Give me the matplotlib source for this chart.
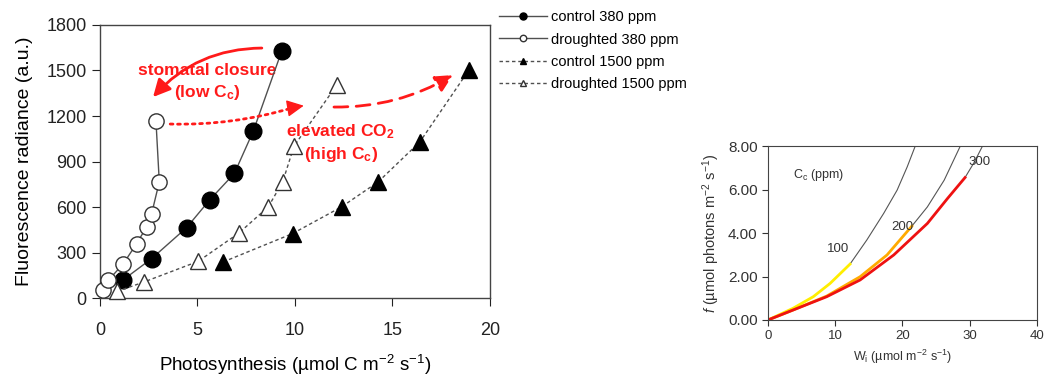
import matplotlib
matplotlib.use('Agg')
import matplotlib.pyplot as plt

plt.rcParams['font.family'] = ['Liberation Sans', 'DejaVu Sans']
plt.rcParams['mathtext.fontset'] = 'custom'
plt.rcParams['mathtext.rm'] = 'Liberation Sans'
plt.rcParams['mathtext.it'] = 'Liberation Sans:italic'
plt.rcParams['mathtext.default'] = 'regular'

# --- left panel: fluorescence vs photosynthesis ---
ctrl380_x = [1.2, 2.65, 4.44, 5.64, 6.89, 7.86, 9.32]
ctrl380_y = [121, 260, 464, 649, 821, 1100, 1628]
drought380_x = [0.17, 0.43, 1.2, 1.88, 2.39, 2.65, 3.04, 2.87]
drought380_y = [55, 117, 227, 359, 469, 557, 766, 1166]
ctrl1500_x = [6.32, 9.88, 12.39, 14.27, 16.41, 18.92]
ctrl1500_y = [238, 425, 601, 766, 1030, 1503]
drought1500_x = [0.89, 2.26, 5.04, 7.13, 8.63, 9.37, 9.95, 12.14]
drought1500_y = [44, 106, 242, 429, 601, 766, 1001, 1404]

# --- right panel: f vs Wi for three Cc (coloured part + grey extension) ---
cc100_x = [0, 3.74, 6.73, 9.23, 12.2]
cc100_y = [0, 0.54, 1.07, 1.68, 2.57]
cc100_ext_x = [12.2, 14.7, 17.2, 19.2, 20.7, 21.9]
cc100_ext_y = [2.57, 3.68, 4.9, 5.97, 7.04, 8.0]
cc200_x = [0, 3.74, 8.73, 13.7, 17.7, 21.4]
cc200_y = [0, 0.46, 1.10, 1.99, 2.99, 4.32]
cc200_ext_x = [21.4, 23.7, 26.2, 28.6]
cc200_ext_y = [4.32, 5.2, 6.43, 8.0]
cc300_x = [0, 3.74, 8.73, 13.7, 18.7, 23.7, 26.7, 29.3]
cc300_y = [0, 0.46, 1.07, 1.84, 2.99, 4.44, 5.59, 6.55]
cc300_ext_x = [29.3, 30.7, 31.9]
cc300_ext_y = [6.55, 7.27, 8.0]

fig = plt.figure(figsize=(10.44, 3.77), dpi=100)

ax = fig.add_axes([0.0958, 0.2095, 0.3735, 0.7242])
gline = '#505050'
ax.plot(ctrl380_x, ctrl380_y, '-', color=gline, lw=1, marker='o', ms=12,
        mfc='black', mec='black', label='control 380 ppm', zorder=3, clip_on=False)
ax.plot(drought380_x, drought380_y, '-', color=gline, lw=1, marker='o', ms=11,
        mfc='white', mec='#333333', mew=1, label='droughted 380 ppm', zorder=4, clip_on=False)
ax.plot(ctrl1500_x, ctrl1500_y, color=gline, lw=1, ls=(0, (2.5, 2)), marker='^', ms=11,
        mfc='black', mec='black', label='control 1500 ppm', zorder=3, clip_on=False)
ax.plot(drought1500_x, drought1500_y, color=gline, lw=1, ls=(0, (2.5, 2)), marker='^', ms=11,
        mfc='white', mec='#333333', mew=1, label='droughted 1500 ppm', zorder=3, clip_on=False)

ax.set_xlim(0, 20)
ax.set_ylim(0, 1800)
ax.set_xticks([0, 5, 10, 15, 20])
ax.set_yticks(range(0, 1801, 300))
ax.tick_params(direction='out', length=6, labelsize=13, colors='#222222')
ax.tick_params(axis='x', pad=11)
for s in ax.spines.values():
    s.set_color('#444444')
    s.set_linewidth(1)
ax.set_xlabel('Photosynthesis (µmol C m$^{-2}$ s$^{-1}$)', fontsize=13.5, labelpad=10)
ax.set_ylabel('Fluorescence radiance (a.u.)', fontsize=14, labelpad=10)

red = '#ff1a1a'
# stomatal closure: solid curved arrow
ax.annotate('', xy=(2.72, 1325), xytext=(8.3, 1648),
            arrowprops=dict(arrowstyle='-|>', color=red, lw=2, mutation_scale=26,
                            connectionstyle='arc3,rad=0.22', shrinkA=0, shrinkB=0))
# drought -> elevated CO2: dotted line plus a solid head
ax.annotate('', xy=(9.9, 1255), xytext=(3.6, 1147),
            arrowprops=dict(arrowstyle='-', color=red, lw=2, ls=':',
                            connectionstyle='arc3,rad=0.08', shrinkA=0, shrinkB=0))
ax.annotate('', xy=(10.45, 1268), xytext=(9.7, 1252),
            arrowprops=dict(arrowstyle='-|>', color=red, lw=1, mutation_scale=26,
                            shrinkA=0, shrinkB=0))
# control -> elevated CO2: dashed curved arrow
ax.annotate('', xy=(18.1, 1470), xytext=(12.0, 1259),
            arrowprops=dict(arrowstyle='-|>', color=red, lw=2, ls=(0, (5, 3)), mutation_scale=26,
                            connectionstyle='arc3,rad=0.14', shrinkA=0, shrinkB=0))
ax.text(5.5, 1502, 'stomatal closure', color=red, fontsize=12.5, fontweight='bold',
        ha='center', va='center', zorder=2)
ax.text(5.5, 1358, '(low C$_c$)', color=red, fontsize=12.5, fontweight='bold',
        ha='center', va='center')
ax.text(12.35, 1094, 'elevated CO$_2$', color=red, fontsize=12.5, fontweight='bold',
        ha='center', va='center')
ax.text(12.35, 949, '(high C$_c$)', color=red, fontsize=12.5, fontweight='bold',
        ha='center', va='center')

leg = fig.legend(loc='upper left', bbox_to_anchor=(0.465, 1.008), frameon=False,
                 fontsize=10.5, markerscale=0.42, handlelength=3.3, labelspacing=0.58,
                 handletextpad=0.3)

# --- right panel ---
ax2 = fig.add_axes([0.7356, 0.1512, 0.2577, 0.4615])
ax2.plot(cc100_ext_x, cc100_ext_y, color='#555555', lw=0.8)
ax2.plot(cc200_ext_x, cc200_ext_y, color='#555555', lw=0.8)
ax2.plot(cc300_ext_x, cc300_ext_y, color='#555555', lw=0.8)
ax2.plot(cc100_x, cc100_y, color='#ffee00', lw=2)
ax2.plot(cc200_x, cc200_y, color='#ffaa00', lw=2)
ax2.plot(cc300_x, cc300_y, color='#ee1111', lw=2)
ax2.set_xlim(0, 40)
ax2.set_ylim(0, 8)
ax2.set_xticks([0, 10, 20, 30, 40])
ax2.set_yticks([0, 2, 4, 6, 8])
ax2.set_yticklabels(['0.00', '2.00', '4.00', '6.00', '8.00'])
ax2.tick_params(direction='out', length=4, colors='#333333')
ax2.tick_params(axis='y', labelsize=11)
ax2.tick_params(axis='x', labelsize=9.5)
for s in ax2.spines.values():
    s.set_color('#444444')
    s.set_linewidth(0.8)
ax2.set_xlabel('W$_i$ (µmol m$^{-2}$ s$^{-1}$)', fontsize=9, color='#333333')
ax2.set_ylabel('$\\it{f}$ (µmol photons m$^{-2}$ s$^{-1}$)', fontsize=10.5, color='#333333')
ax2.text(10.4, 3.27, '100', fontsize=9.5, ha='center', va='center', color='#333333')
ax2.text(19.97, 4.27, '200', fontsize=9.5, ha='center', va='center', color='#333333')
ax2.text(31.5, 7.28, '300', fontsize=9.5, ha='center', va='center', color='#333333')
ax2.text(3.7, 6.68, 'C$_c$ (ppm)', fontsize=9, ha='left', va='center', color='#333333')

plt.savefig('out.png', dpi=100)
